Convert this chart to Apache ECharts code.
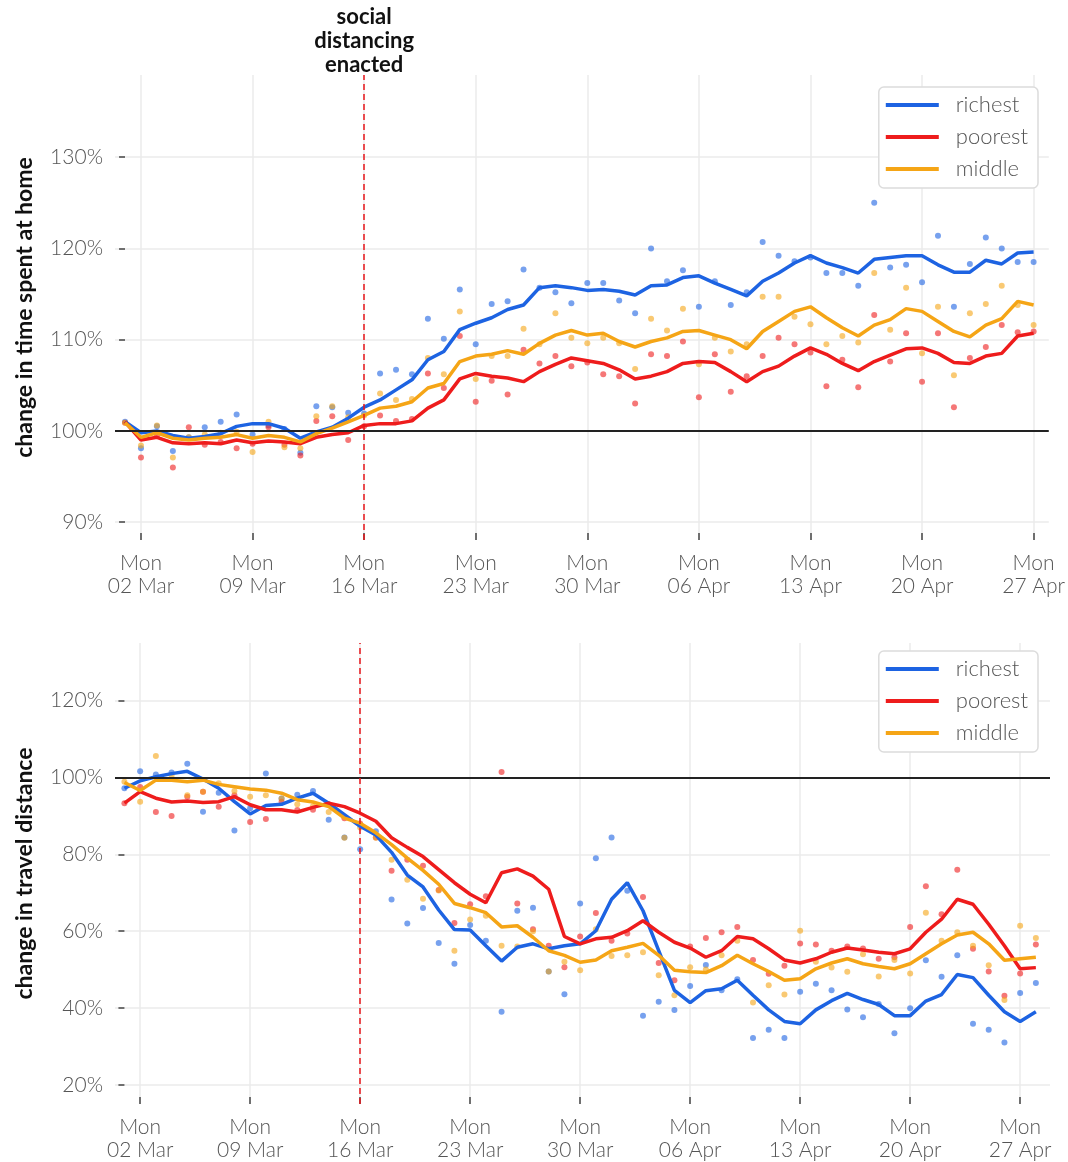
<!DOCTYPE html>
<html>
<head>
<meta charset="utf-8">
<script src="https://cdn.jsdelivr.net/npm/echarts@6/dist/echarts.min.js"></script>
<style>
  html, body { margin: 0; padding: 0; background: #fff; }
  #chart { width: 1068px; height: 1162px; }
</style>
</head>
<body>
<div id="chart"></div>
<script>
// day 0 = Sun 01 Mar 2020
const tickDays = [1, 8, 15, 22, 29, 36, 43, 50, 57];
const tickLabels = ['Mon\n02 Mar', 'Mon\n09 Mar', 'Mon\n16 Mar', 'Mon\n23 Mar', 'Mon\n30 Mar',
  'Mon\n06 Apr', 'Mon\n13 Apr', 'Mon\n20 Apr', 'Mon\n27 Apr'];
const distancingDay = 15;

// time spent at home, % of baseline (rolling line + daily dots)
const homeRichLine = [101.0, 99.8, 100.0, 99.5, 99.2, 99.4, 99.7, 100.5, 100.8, 100.8, 100.3, 99.2, 99.9, 100.4, 101.4, 102.6,
  103.4, 104.5, 105.6, 107.8, 108.7, 111.1, 111.8, 112.4, 113.3, 113.8, 115.7, 115.9, 115.7, 115.4, 115.5, 115.3, 114.9, 115.9, 116.0, 116.8,
  117.0, 116.2, 115.5, 114.8, 116.4, 117.3, 118.4, 119.2, 118.4, 117.9, 117.3, 118.8, 119.0, 119.2, 119.2, 118.2, 117.4, 117.4, 118.7, 118.3, 119.5, 119.6];
const homeRichDots = [101.0, 98.1, 100.5, 97.8, 99.3, 100.4, 101.0, 101.8, 99.6, 100.6, 100.2, 97.6, 102.7, 102.6, 102.0, 101.9,
  106.3, 106.7, 106.2, 112.3, 110.1, 115.5, 109.5, 113.9, 114.2, 117.7, 115.7, 115.2, 114.0, 116.2, 116.2, 114.3, 112.9, 120.0, 116.4, 117.6,
  113.6, 116.4, 113.8, 115.2, 120.7, 119.2, 118.6, 119.0, 117.3, 117.3, 115.9, 125.0, 117.9, 118.2, 116.3, 121.4, 113.6, 118.3, 121.2, 120.0, 118.5, 118.5];
const homePoorLine = [101.0, 99.0, 99.3, 98.7, 98.6, 98.7, 98.6, 99.0, 98.7, 98.9, 98.8, 98.6, 99.3, 99.6, 99.8, 100.6,
  100.8, 100.8, 101.1, 102.5, 103.4, 105.7, 106.3, 106.0, 105.8, 105.4, 106.5, 107.3, 108.0, 107.7, 107.4, 106.7, 105.7, 106.0, 106.5, 107.4,
  107.6, 107.5, 106.5, 105.4, 106.5, 107.1, 108.2, 109.1, 108.4, 107.4, 106.6, 107.6, 108.3, 109.0, 109.1, 108.5, 107.5, 107.4, 108.2, 108.5, 110.4, 110.7];
const homePoorDots = [100.9, 97.1, 99.5, 96.0, 100.4, 98.5, 98.8, 98.1, 98.6, 100.4, 98.5, 97.3, 101.1, 101.6, 99.0, 100.5,
  101.7, 101.1, 101.3, 106.3, 104.7, 110.4, 103.2, 105.5, 104.0, 108.9, 107.4, 108.2, 107.1, 107.5, 106.2, 106.0, 103.0, 108.4, 108.2, 109.8,
  103.7, 108.4, 104.3, 106.0, 108.2, 110.2, 109.5, 108.6, 104.9, 107.8, 104.8, 112.7, 107.6, 110.7, 105.4, 110.7, 102.6, 108.0, 109.2, 111.6, 110.8, 110.9];
const homeMidLine = [100.9, 99.3, 99.8, 99.2, 99.0, 99.2, 99.3, 99.6, 99.2, 99.5, 99.3, 98.8, 99.7, 100.3, 101.0, 101.7,
  102.5, 102.7, 103.2, 104.7, 105.2, 107.6, 108.2, 108.4, 108.8, 108.4, 109.6, 110.5, 111.0, 110.5, 110.7, 109.8, 109.2, 109.8, 110.2, 110.9,
  111.0, 110.5, 110.0, 109.0, 110.9, 112.0, 113.1, 113.6, 112.4, 111.3, 110.4, 111.6, 112.2, 113.4, 113.1, 112.0, 110.9, 110.3, 111.6, 112.3, 114.2, 113.8];
const homeMidDots = [100.9, 98.4, 100.6, 97.1, 99.3, 99.6, 99.8, 99.9, 97.7, 101.0, 98.2, 98.1, 101.6, 102.7, 101.5, 101.7,
  104.1, 103.4, 103.5, 108.0, 106.2, 113.1, 105.7, 108.2, 108.2, 111.2, 109.5, 112.9, 110.2, 109.6, 110.2, 109.6, 106.8, 112.3, 111.0, 113.4,
  107.3, 110.2, 108.7, 109.5, 114.7, 114.7, 112.5, 111.7, 109.5, 110.4, 109.7, 117.3, 111.1, 115.7, 108.5, 113.6, 106.1, 112.9, 113.9, 115.9, 113.8, 111.6];

// travel distance, % of baseline
const travelRichLine = [97.2, 99.1, 100.2, 101.0, 101.6, 99.6, 97.2, 93.7, 90.5, 92.7, 93.0, 94.6, 95.9, 93.3, 90.3, 87.3, 85.0, 80.5, 74.6, 71.5, 65.5,
  60.4, 60.3, 56.2, 52.2, 55.8, 56.7, 55.4, 56.2, 56.7, 60.1, 68.3, 72.6, 65.3, 54.9, 44.6, 41.4,
  44.5, 45.0, 47.2, 43.3, 39.5, 36.5, 35.9, 39.5, 41.9, 43.8, 42.2, 40.9, 38.0, 38.0, 41.8, 43.5, 48.7, 47.9, 43.3, 39.0, 36.5, 39.0];
const travelRichDots = [97.2, 101.6, 100.8, 101.3, 103.6, 91.1, 96.0, 86.2, 92.0, 101.0, 94.5, 95.5, 96.5, 89.0, 84.4, 81.3, 86.0, 68.2, 62.0, 66.0, 56.9,
  51.5, 61.6, 57.5, 39.0, 65.3, 66.1, 49.5, 43.6, 67.2, 79.0, 84.4, 70.5, 38.0, 41.6, 39.5, 45.7,
  51.2, 44.6, 47.5, 32.2, 34.3, 32.2, 44.2, 46.3, 44.6, 39.6, 37.6, 41.0, 33.4, 39.9, 52.4, 48.1, 53.7, 35.9, 34.3, 31.0, 43.9, 46.5];
const travelPoorLine = [93.3, 96.3, 94.6, 93.6, 93.9, 93.5, 93.7, 95.0, 92.9, 91.6, 91.6, 91.0, 92.2, 93.3, 92.4, 90.7, 88.6, 84.3, 81.8, 79.4, 76.0,
  72.6, 69.6, 67.4, 75.2, 76.2, 74.3, 70.9, 58.6, 56.7, 58.0, 58.4, 60.1, 62.7, 59.7, 57.1, 55.6,
  53.2, 54.9, 58.6, 58.0, 55.4, 52.5, 51.7, 52.8, 54.5, 55.6, 55.1, 54.5, 54.1, 55.4, 59.7, 63.1, 68.3, 67.0, 61.8, 56.2, 50.2, 50.5];
const travelPoorDots = [93.3, 97.5, 91.0, 90.0, 95.0, 96.3, 92.4, 95.4, 88.4, 89.2, 93.7, 91.5, 91.6, 93.0, 89.4, 88.0, 84.4, 75.7, 78.6, 77.0, 70.7,
  62.1, 67.0, 69.1, 101.4, 67.2, 60.5, 56.2, 50.6, 58.6, 64.7, 57.5, 59.4, 68.9, 51.7, 47.2, 56.0,
  58.2, 59.7, 61.1, 52.5, 48.9, 51.0, 56.8, 56.5, 54.9, 56.0, 55.5, 52.8, 53.2, 61.1, 71.7, 64.4, 76.0, 55.4, 49.5, 43.2, 49.0, 56.5];
const travelMidLine = [98.7, 96.6, 99.3, 99.3, 98.9, 99.3, 98.2, 97.6, 97.0, 96.7, 95.9, 94.2, 93.6, 92.4, 89.4, 88.1, 85.6, 82.5, 79.0, 75.8, 72.2,
  67.2, 66.1, 64.8, 61.1, 61.4, 58.4, 54.9, 53.7, 51.9, 52.5, 54.9, 55.8, 56.8, 53.7, 49.8, 49.4,
  49.2, 51.0, 53.7, 51.5, 49.5, 47.2, 47.6, 50.2, 51.7, 52.8, 51.5, 50.8, 50.2, 51.5, 54.1, 56.7, 59.0, 59.7, 56.7, 52.4, 52.8, 53.2];
const travelMidDots = [98.9, 93.7, 105.6, 100.5, 95.4, 96.3, 98.5, 96.5, 95.0, 95.4, 94.5, 93.0, 92.5, 91.0, 84.3, 87.0, 84.3, 78.6, 73.4, 68.4, 70.6,
  54.9, 63.0, 64.0, 56.2, 56.0, 60.0, 49.5, 52.0, 49.8, 60.5, 53.5, 53.7, 54.5, 48.5, 43.3, 50.6,
  50.0, 53.7, 57.5, 41.4, 45.9, 43.5, 60.1, 52.0, 50.5, 49.4, 54.0, 48.2, 52.5, 49.0, 64.8, 57.5, 59.7, 56.2, 51.1, 42.1, 61.4, 58.2];

const homeTicks = [90, 100, 110, 120, 130];
const travelTicks = [20, 40, 60, 80, 100, 120];

const groups = ['richest', 'poorest', 'middle'];
const colors = { richest: '#1d63e2', poorest: '#ee1c1c', middle: '#f5a516' };
const FONT = 'Lato';

(function () {
  const myChart = echarts.init(document.getElementById('chart'));

  const toPts = arr => arr.map((v, i) => [i, v]);

  function xAxisFor(gridIndex, min, max) {
    return {
      type: 'value',
      gridIndex: gridIndex,
      min: min,
      max: max,
      axisLine: { show: false },
      axisTick: {
        show: true,
        customValues: tickDays,
        length: 7,
        inside: true,
        lineStyle: { color: '#444', width: 1.5 }
      },
      axisLabel: {
        customValues: tickDays,
        color: '#555',
        fontFamily: FONT,
        fontWeight: 300,
        fontSize: 21,
        lineHeight: 23,
        margin: 12,
        formatter: function (v) {
          return tickLabels[tickDays.indexOf(Math.round(v))];
        }
      },
      splitLine: { show: true, lineStyle: { color: '#ebebeb', width: 1.5 } }
    };
  }

  function yAxisFor(gridIndex, min, max, ticks, name) {
    return {
      type: 'value',
      gridIndex: gridIndex,
      min: min,
      max: max,
      name: name,
      nameLocation: 'middle',
      nameGap: 79,
      nameTextStyle: { fontFamily: FONT, fontWeight: 'bold', fontSize: 23, color: '#111' },
      axisLine: { show: false },
      axisTick: {
        show: true,
        customValues: ticks,
        length: 6,
        lineStyle: { color: '#444', width: 1.5 }
      },
      axisLabel: {
        customValues: ticks,
        color: '#555',
        fontFamily: FONT,
        fontWeight: 300,
        fontSize: 21,
        margin: 12,
        formatter: '{value}%'
      },
      splitLine: { show: true, lineStyle: { color: '#ebebeb', width: 1.5 } }
    };
  }

  function legendFor(top) {
    return {
      data: groups,
      orient: 'vertical',
      right: 30,
      top: top,
      icon: 'rect',
      backgroundColor: '#fff',
      borderColor: '#dcdcdc',
      borderWidth: 1.5,
      borderRadius: 5,
      padding: [7, 10, 8, 7],
      itemWidth: 53,
      itemHeight: 4,
      itemGap: 10,
      textStyle: { fontFamily: FONT, fontWeight: 300, fontSize: 22, color: '#555', padding: [0, 0, 0, 12] }
    };
  }

  const panels = [
    { grid: 0, data: { richest: [homeRichLine, homeRichDots], poorest: [homePoorLine, homePoorDots], middle: [homeMidLine, homeMidDots] }, label: true },
    { grid: 1, data: { richest: [travelRichLine, travelRichDots], poorest: [travelPoorLine, travelPoorDots], middle: [travelMidLine, travelMidDots] }, label: false }
  ];

  const series = [];
  panels.forEach(function (p) {
    groups.forEach(function (g) {
      series.push({
        name: g + ' daily',
        type: 'scatter',
        xAxisIndex: p.grid,
        yAxisIndex: p.grid,
        symbolSize: 6,
        itemStyle: { color: colors[g], opacity: 0.6 },
        silent: true,
        z: 2,
        data: toPts(p.data[g][1])
      });
    });
    // reference lines: baseline and social distancing date
    series.push({
      name: 'ref',
      type: 'line',
      xAxisIndex: p.grid,
      yAxisIndex: p.grid,
      data: [],
      z: 3,
      markLine: {
        silent: true,
        symbol: 'none',
        animation: false,
        data: [
          {
            yAxis: 100,
            label: { show: false },
            lineStyle: { color: '#222', width: 2, type: 'solid' }
          },
          {
            xAxis: distancingDay,
            lineStyle: { color: '#e8141a', width: 1.5, type: [6, 4] },
            label: p.label ? {
              show: true,
              position: 'end',
              distance: -2,
              formatter: 'social\ndistancing\nenacted',
              fontFamily: FONT,
              fontWeight: 'bold',
              fontSize: 22,
              lineHeight: 24,
              color: '#111'
            } : { show: false }
          }
        ]
      }
    });
    groups.forEach(function (g) {
      series.push({
        name: g,
        type: 'line',
        xAxisIndex: p.grid,
        yAxisIndex: p.grid,
        symbol: 'none',
        showSymbol: false,
        lineStyle: { color: colors[g], width: 3.5 },
        itemStyle: { color: colors[g] },
        z: 4,
        data: toPts(p.data[g][0])
      });
    });
  });

  let option = {
    animation: false,
    backgroundColor: '#fff',
    grid: [
      { left: 115, top: 75, width: 935, height: 465 },
      { left: 115, top: 643, width: 935, height: 465 }
    ],
    legend: [legendFor(87), legendFor(651)],
    xAxis: [xAxisFor(0, -0.63, 57.95), xAxisFor(1, -0.6, 58.9)],
    yAxis: [
      yAxisFor(0, 88.05, 139, homeTicks, 'change in time spent at home'),
      yAxisFor(1, 15, 135, travelTicks, 'change in travel distance')
    ],
    series: series
  };
  myChart.setOption(option);
  window.addEventListener('resize', function () {
    myChart.resize();
  });
})();
</script>
</body>
</html>
